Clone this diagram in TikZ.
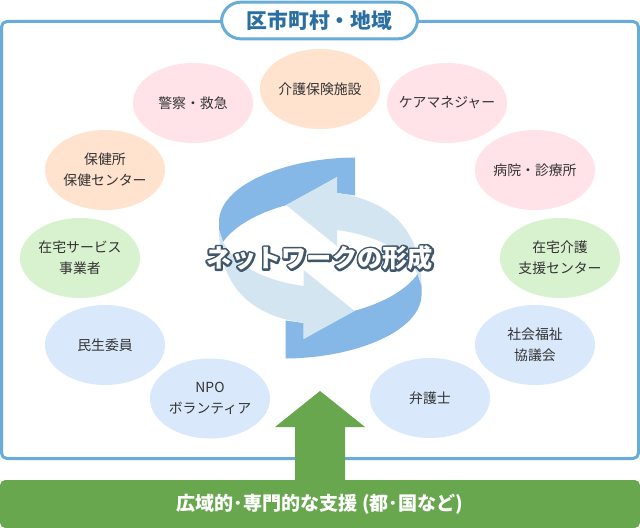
\documentclass[tikz,border=0pt]{standalone}
\usepackage{fontspec}
\setmainfont{Noto Sans CJK JP}
\newfontfamily\netplain{Noto Sans CJK JP Black}
\definecolor{frameblue}{HTML}{68ACD9}
\definecolor{titleblue}{HTML}{2A6FA0}
\definecolor{pinkfill}{HTML}{FFE3E8}
\definecolor{peachfill}{HTML}{FFE3CF}
\definecolor{greenfill}{HTML}{D8F2CF}
\definecolor{bluefill}{HTML}{D9E9FB}
\definecolor{arrowdark}{HTML}{85B8E6}
\definecolor{arrowlight}{HTML}{D3E5F0}
\definecolor{supportgreen}{HTML}{68A74E}
\definecolor{outline}{HTML}{40566B}
\definecolor{labeltext}{HTML}{333333}
\newcommand\bl[1]{\makebox[0pt]{#1}}
\usetikzlibrary{shapes.geometric}
\tikzset{
  bubble/.style={ellipse,minimum width=90pt,minimum height=60pt,inner sep=0pt,align=center,text=labeltext,font=\fontsize{10.4}{15.5}\selectfont},
  pinkb/.style={bubble,fill=pinkfill},
  peachb/.style={bubble,fill=peachfill},
  greenb/.style={bubble,fill=greenfill},
  blueb/.style={bubble,fill=bluefill},
}
\begin{document}
\begin{tikzpicture}[x=0.75pt,y=-0.75pt]
\path[use as bounding box] (0,0) rectangle (640,528);
% frame
\draw[frameblue,line width=2.25pt,rounded corners=4pt,fill=white] (1.5,21.5) rectangle (638.5,458.5);
\node[draw=frameblue,line width=2.25pt,fill=white,rounded corners=14.5pt,minimum width=147pt,minimum height=27.5pt,inner sep=0pt,text=titleblue,font=\fontsize{15.6}{15.6}\selectfont\bfseries] (title) at (319.5,20.5) {区市町村・地域};
% rotating arrows
\fill[arrowdark] (355,157.5) .. controls (285,158) and (219,185) .. (219,222) -- (219,230) -- (223,242)
  .. controls (235,225) and (260,212) .. (287,205) -- (297,200) -- (337,177) -- (337,193) -- (355,195.5) -- cycle;
\fill[arrowdark] (285.6,358.5) .. controls (355.6,358) and (421.6,331) .. (421.6,294) -- (421.6,286) -- (417.6,274)
  .. controls (405.6,291) and (380.6,304) .. (353.6,311) -- (343.6,316) -- (303.6,339) -- (303.6,323) -- (285.6,320.5) -- cycle;
\fill[arrowlight] (286,205) -- (337,177) -- (337,193)
  .. controls (385,200) and (421,225) .. (421.6,286) -- (417.6,274)
  .. controls (405,250) and (375,235) .. (337,230) -- (337,246) -- cycle;
\fill[arrowlight] (354.6,311) -- (303.6,339) -- (303.6,323)
  .. controls (255.6,316) and (219.6,291) .. (219,230) -- (223,242)
  .. controls (235.6,266) and (265.6,281) .. (303.6,286) -- (303.6,270) -- cycle;
\node[inner sep=0pt,font=\fontsize{18.9}{20}\selectfont\netplain] (net) at (319.5,258) {\rlap{\color{outline}\special{pdf:code 2 Tr 3 w 1 j}ネットワークの形成\special{pdf:code 0 Tr 1 w 0 j}}\color{white}ネットワークの形成};
% bubbles
\node[pinkb]  (police)  at (193,103) {\bl{警察・救急}};
\node[peachb] (care)    at (320,89)  {\bl{介護保険施設}};
\node[pinkb]  (manager) at (447,103) {\bl{ケアマネジャー}};
\node[peachb] (health)  at (105,170) {\bl{保健所}\\[0.2pt]\bl{保健センター}};
\node[pinkb]  (clinic)  at (535,170) {\bl{病院・診療所}};
\node[greenb] (home)    at (80,258)  {\bl{在宅サービス}\\\bl{事業者}};
\node[greenb] (center)  at (560,258) {\bl{在宅介護}\\\bl{支援センター}};
\node[blueb]  (welfare) at (105,345) {\bl{民生委員}};
\node[blueb]  (council) at (535,345) {\bl{社会福祉}\\\bl{協議会}};
\node[blueb]  (npo)     at (210,398.5) {\bl{NPO}\\\bl{ボランティア}};
\node[blueb]  (lawyer)  at (430,398) {\bl{弁護士}};
% support
\fill[supportgreen] (320,391) -- (365,427) -- (345,427) -- (345,485) -- (295,485) -- (295,427) -- (275,427) -- cycle;
\node[fill=supportgreen,rounded corners=4pt,minimum width=480pt,minimum height=36pt,inner sep=0pt,text=white,font=\fontsize{14.3}{14.3}\selectfont\bfseries] (support) at (320,504) {広域的･専門的な支援 (都･国など)};
\end{tikzpicture}
\end{document}
